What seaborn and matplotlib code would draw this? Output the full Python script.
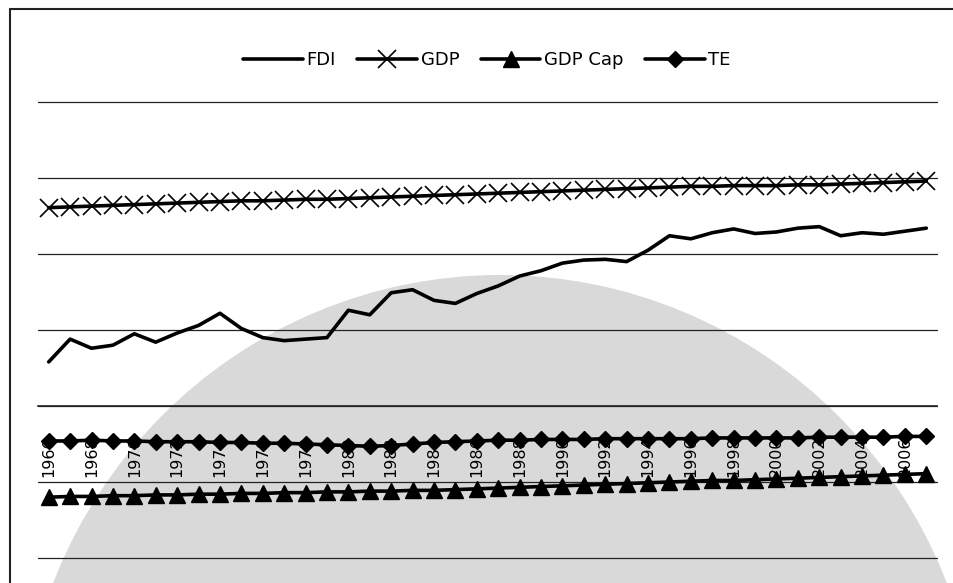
import numpy as np
import pandas as pd
import seaborn as sns
import matplotlib
matplotlib.use("Agg")
import matplotlib.pyplot as plt
from matplotlib.patches import Ellipse
from matplotlib.lines import Line2D

# Annual series, 1966-2007 (log-scaled indices)
years = list(range(1966, 2008))
fdi = [0.58, 0.88, 0.76, 0.80, 0.95, 0.84, 0.96, 1.06, 1.22, 1.02,
       0.90, 0.86, 0.88, 0.90, 1.26, 1.20, 1.49, 1.53, 1.39, 1.35,
       1.48, 1.58, 1.71, 1.78, 1.88, 1.92, 1.93, 1.90, 2.05, 2.24,
       2.20, 2.28, 2.33, 2.27, 2.29, 2.34, 2.36, 2.24, 2.28, 2.26,
       2.30, 2.34]
gdp = [2.61, 2.62, 2.63, 2.64, 2.65, 2.66, 2.67, 2.68, 2.69, 2.70,
       2.70, 2.71, 2.72, 2.72, 2.73, 2.74, 2.75, 2.76, 2.77, 2.78,
       2.79, 2.80, 2.81, 2.82, 2.83, 2.84, 2.85, 2.86, 2.87, 2.88,
       2.89, 2.89, 2.90, 2.90, 2.90, 2.91, 2.91, 2.92, 2.93, 2.94,
       2.95, 2.96]
gdp_cap = [-1.20, -1.19, -1.19, -1.18, -1.18, -1.17, -1.17, -1.16, -1.16, -1.15,
           -1.15, -1.14, -1.14, -1.13, -1.13, -1.12, -1.12, -1.11, -1.11, -1.10,
           -1.09, -1.08, -1.07, -1.06, -1.05, -1.04, -1.03, -1.02, -1.01, -1.00,
           -0.99, -0.98, -0.98, -0.97, -0.96, -0.95, -0.94, -0.93, -0.92, -0.91,
           -0.90, -0.89]
te = [-0.46, -0.46, -0.45, -0.46, -0.46, -0.47, -0.47, -0.47, -0.48, -0.48,
      -0.49, -0.49, -0.50, -0.51, -0.52, -0.53, -0.52, -0.50, -0.48, -0.47,
      -0.46, -0.45, -0.45, -0.44, -0.44, -0.44, -0.43, -0.43, -0.43, -0.43,
      -0.43, -0.42, -0.42, -0.42, -0.42, -0.42, -0.41, -0.41, -0.41, -0.41,
      -0.40, -0.40]

series_names = ["FDI", "GDP", "GDP Cap", "TE"]
markers = {"FDI": None, "GDP": "x", "GDP Cap": "^", "TE": "D"}
msizes = {"FDI": 0, "GDP": 13, "GDP Cap": 12, "TE": 8}
medge = {"FDI": 1.0, "GDP": 1.2, "GDP Cap": 1.0, "TE": 1.0}

df = pd.DataFrame({"Year": years, "FDI": fdi, "GDP": gdp,
                   "GDP Cap": gdp_cap, "TE": te})
df["pos"] = np.arange(len(years))
long = df.melt(id_vars=["Year", "pos"], value_vars=series_names,
               var_name="series", value_name="value")

sns.set_theme(style="white")
plt.rcParams["font.family"] = ["DejaVu Sans"]

W, H = 954, 583
fig = plt.figure(figsize=(W / 100, H / 100), dpi=100)
fig.patch.set_facecolor("white")

# faint seal printed behind the chart
fig.patches.append(Ellipse((500 / W, 1 - 760 / H), 960 / W, 970 / H,
                           transform=fig.transFigure, facecolor="#d9d9d9",
                           edgecolor="none", zorder=-5))

# chart border (left and top edges)
fig.add_artist(Line2D([10 / W, 10 / W], [1 - 9 / H, 0], transform=fig.transFigure,
                      color="#222222", lw=1.5))
fig.add_artist(Line2D([10 / W, 1], [1 - 9 / H, 1 - 9 / H], transform=fig.transFigure,
                      color="#222222", lw=1.5))

ax = fig.add_axes([38 / W, 1 - 558 / H, (937 - 38) / W, (558 - 102) / H])
ax.patch.set_visible(False)

for name in series_names:
    sub = long[long["series"] == name]
    sns.lineplot(data=sub, x="pos", y="value", ax=ax, color="black",
                 lw=2.6, marker=markers[name],
                 markersize=msizes[name], markeredgewidth=medge[name],
                 markeredgecolor="black", markerfacecolor="black",
                 label=name, legend=False, zorder=3)

ax.set_xlim(-0.5, len(years) - 0.5)
ax.set_ylim(-2, 4)
ax.set_yticks(np.arange(-2, 5, 1))
ax.yaxis.grid(True, color="#222222", lw=0.9)
for gl in ax.get_ygridlines():
    gl.set_clip_on(False)
ax.set_yticklabels([])
ax.tick_params(axis="y", length=0)
ax.set_xlabel("")
ax.set_ylabel("")

for s in ["left", "right", "top"]:
    ax.spines[s].set_visible(False)
ax.spines["bottom"].set_position(("data", 0))
ax.spines["bottom"].set_color("#222222")
ax.spines["bottom"].set_linewidth(1.2)

ax.set_xticks(df["pos"][::2])
ax.set_xticklabels([str(y) for y in years[::2]], rotation=90,
                   fontsize=11.5, va="top", ha="center", color="black")
ax.set_xticks(np.arange(-0.5, len(years), 1), minor=True)
ax.tick_params(axis="x", which="major", length=0, pad=22)
ax.tick_params(axis="x", which="minor", length=5, width=1.0, color="#222222",
               direction="out")

handles = [Line2D([], [], color="black", lw=2.6, marker=markers[n],
                  markersize=msizes[n], markeredgewidth=medge[n],
                  markerfacecolor="black") for n in series_names]
fig.legend(handles, series_names, loc="center", ncol=4, frameon=False,
           bbox_to_anchor=(487 / W, 1 - 60 / H), fontsize=13,
           handlelength=3.3, columnspacing=1.2, handletextpad=0.2,
           labelcolor="black")

fig.savefig("out.png", dpi=100, facecolor="white")
